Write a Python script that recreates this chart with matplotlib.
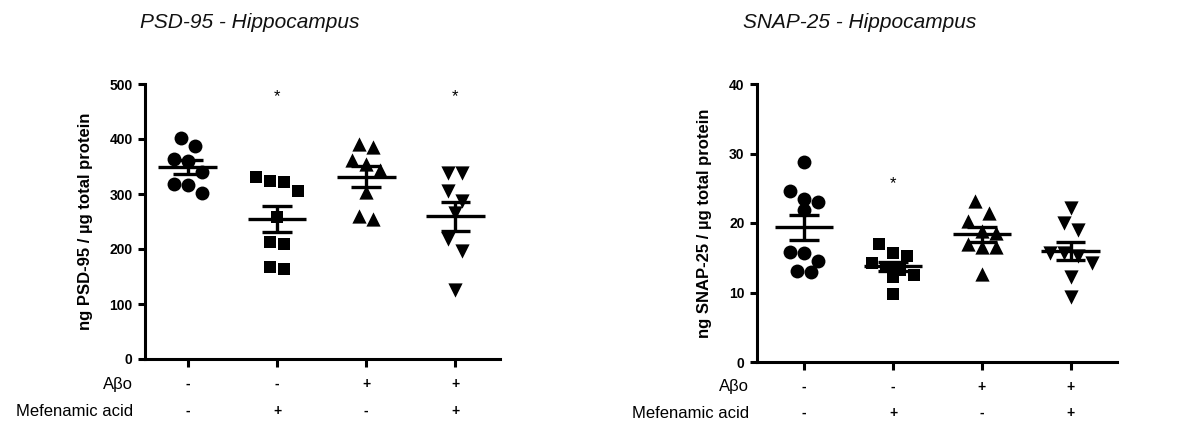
import matplotlib
matplotlib.use("Agg")
import matplotlib.pyplot as plt
import numpy as np

plt.rcParams['font.family'] = ['Liberation Sans', 'DejaVu Sans']

# data
psd_ctrl = [401, 388, 364, 360, 340, 318, 316, 302]
psd_mef = [330, 324, 321, 306, 258, 212, 209, 167, 164]
psd_abo = [391, 385, 361, 355, 344, 304, 260, 254]
psd_abo_mef = [339, 339, 306, 288, 266, 218, 197, 125]

snap_ctrl = [28.8, 24.6, 23.4, 23.0, 21.8, 15.8, 15.7, 14.5, 13.1, 12.9]
snap_mef = [17.0, 15.7, 15.3, 14.3, 13.6, 13.3, 12.5, 12.2, 9.8]
snap_abo = [23.2, 21.5, 20.3, 18.9, 18.5, 17.0, 16.6, 16.6, 12.7]
snap_abo_mef = [22.1, 20.0, 19.0, 15.7, 15.7, 15.2, 14.3, 12.3, 9.3]

abo_signs = ['-', '-', '+', '+']
mef_signs = ['-', '+', '-', '+']
markers = ['o', 's', '^', 'v']
msizes = [100, 80, 105, 105]

W, H = 1201, 425
fig = plt.figure(figsize=(W / 100, H / 100), dpi=100)


def swarm(vals, px_per_unit, d_px, px_per_x):
    # group points into rows of one marker height, center each row
    order = np.argsort(vals)[::-1]
    offs = np.zeros(len(vals))
    rows = []
    for i in order:
        if rows and (vals[rows[-1][0]] - vals[i]) * px_per_unit < d_px:
            rows[-1].append(i)
        else:
            rows.append([i])
    for r in rows:
        n = len(r)
        for k, i in enumerate(r):
            offs[i] = (k - (n - 1) / 2) * d_px / px_per_x
    return offs


def panel(rect, groups, ymax, ystep, ylabel, title, stars, star_y, xlim,
          title_x, lab_x, row_y):
    ax = fig.add_axes(rect)
    ax.set_xlim(*xlim)
    ax.set_ylim(0, ymax)
    ax_w = rect[2] * W
    ax_h = rect[3] * H
    px_x = ax_w / (xlim[1] - xlim[0])
    px_y = ax_h / ymax
    for g, vals in enumerate(groups):
        vals = np.array(vals, dtype=float)
        xs = g + swarm(vals, px_y, 14, px_x)
        ax.scatter(xs, vals, marker=markers[g], s=msizes[g], c='black',
                   linewidths=0, zorder=3)
        m = vals.mean()
        sem = vals.std(ddof=1) / np.sqrt(len(vals))
        ax.plot([g - 0.33, g + 0.33], [m, m], color='black', lw=2.4, zorder=4,
                solid_capstyle='butt')
        ax.plot([g, g], [m - sem, m + sem], color='black', lw=2.4, zorder=4,
                solid_capstyle='butt')
        for yv in (m - sem, m + sem):
            ax.plot([g - 0.165, g + 0.165], [yv, yv], color='black', lw=2.4,
                    zorder=4, solid_capstyle='butt')
    for g in stars:
        ax.text(g, star_y, '*', ha='center', va='center', fontsize=12)

    for s in ['top', 'right']:
        ax.spines[s].set_visible(False)
    for s in ['left', 'bottom']:
        ax.spines[s].set_linewidth(2.2)
    ax.set_yticks(np.arange(0, ymax + 1, ystep))
    ax.set_xticks(range(4))
    ax.set_xticklabels([''] * 4)
    ax.tick_params(axis='y', length=5, width=2.2, labelsize=10, pad=4)
    ax.tick_params(axis='x', length=6, width=2.2)
    for t in ax.get_yticklabels():
        t.set_fontweight('bold')
    ax.set_ylabel(ylabel, fontsize=12, fontweight='bold', labelpad=12)

    # condition table under the axis
    for yy, name, signs in [(row_y[0], 'Aβo', abo_signs),
                            (row_y[1], 'Mefenamic acid', mef_signs)]:
        yf = -(yy - (H - rect[1] * H - ax_h) - ax_h) / ax_h
        for g, sg in enumerate(signs):
            ax.text(g, yf, sg, transform=ax.get_xaxis_transform(),
                    ha='center', va='center', fontsize=10, fontweight='bold')
        fig.text(lab_x / W, 1 - yy / H, name, ha='right', va='center',
                 fontsize=12)

    fig.text(title_x / W, 1 - 22 / H, title, ha='center', va='center',
             fontsize=15, fontstyle='italic', color='#111111')
    return ax


panel([145 / W, 66 / H, 355 / W, 275 / H],
      [psd_ctrl, psd_mef, psd_abo, psd_abo_mef], 500, 100,
      'ng PSD-95 / µg total protein', 'PSD-95 - Hippocampus',
      [1, 3], 477, (-0.48, 3.5), 250, 133, (384, 411))

panel([757 / W, 63 / H, 360 / W, 278 / H],
      [snap_ctrl, snap_mef, snap_abo, snap_abo_mef], 40, 10,
      'ng SNAP-25 / µg total protein', 'SNAP-25 - Hippocampus',
      [1], 25.6, (-0.53, 3.52), 860, 749, (387, 413))

fig.savefig('out.png', dpi=100)
